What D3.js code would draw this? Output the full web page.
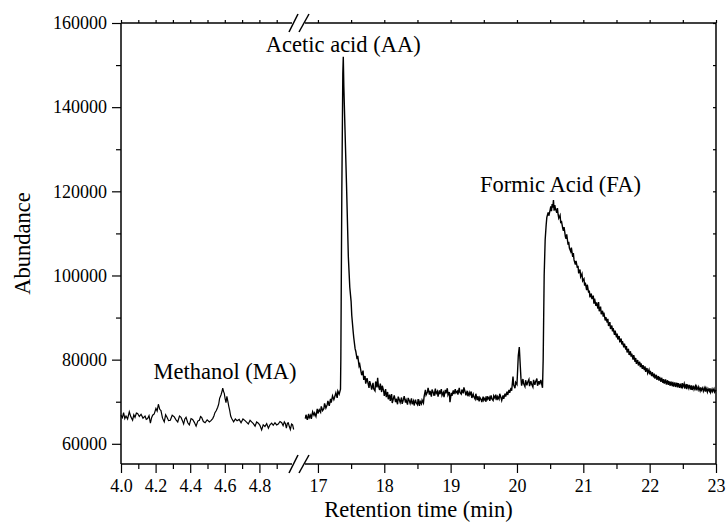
<!DOCTYPE html>
<html>
<head>
<meta charset="utf-8">
<script src="https://cdn.jsdelivr.net/npm/d3@7"></script>
<style>
  body { margin: 0; background: #fff; }
</style>
</head>
<body>
<svg id="chart" width="726" height="523"></svg>
<script>
// retention time (min), abundance -- methanol window
const methanolTrace = [
  [4.000, 66800], [4.008, 66200], [4.015, 67400], [4.022, 66000], [4.029, 66600],
  [4.038, 65900], [4.048, 67600], [4.057, 66400], [4.067, 65600], [4.074, 66900],
  [4.081, 66300], [4.089, 67300], [4.096, 67200], [4.106, 66500], [4.116, 67000],
  [4.127, 66100], [4.139, 66600], [4.146, 65800], [4.154, 66000], [4.162, 66700],
  [4.170, 64900], [4.177, 66200], [4.183, 66800], [4.192, 67100], [4.202, 68400],
  [4.209, 67800], [4.216, 69400], [4.224, 68200], [4.231, 67900], [4.240, 66100],
  [4.250, 65200], [4.258, 66900], [4.266, 66300], [4.275, 65500], [4.285, 65600],
  [4.296, 66800], [4.308, 66400], [4.318, 65700], [4.328, 65200], [4.338, 66600],
  [4.347, 66300], [4.355, 65500], [4.362, 64700], [4.369, 65900], [4.376, 66300],
  [4.386, 65000], [4.395, 64500], [4.405, 66000], [4.414, 65800], [4.424, 65100],
  [4.434, 64200], [4.444, 65400], [4.453, 65600], [4.460, 66500], [4.466, 66300],
  [4.476, 65300], [4.486, 65000], [4.498, 65700], [4.511, 65200], [4.520, 65500],
  [4.530, 66000], [4.537, 66600], [4.543, 67400], [4.551, 67900], [4.559, 68700],
  [4.565, 69500], [4.570, 70800], [4.578, 71600], [4.583, 72300], [4.588, 73200],
  [4.593, 72400], [4.597, 72000], [4.602, 70700], [4.607, 69800], [4.612, 71300],
  [4.618, 70000], [4.623, 68900], [4.628, 68000], [4.634, 66600], [4.640, 66000],
  [4.651, 65200], [4.661, 65900], [4.671, 65500], [4.683, 65800], [4.694, 65000],
  [4.705, 65900], [4.717, 65500], [4.727, 65100], [4.736, 64700], [4.746, 65600],
  [4.755, 65200], [4.765, 64800], [4.775, 64200], [4.784, 65200], [4.794, 64900],
  [4.803, 64400], [4.813, 63300], [4.822, 64500], [4.832, 64100], [4.842, 64800],
  [4.852, 63700], [4.861, 64500], [4.871, 64900], [4.880, 64400], [4.890, 65000],
  [4.900, 64500], [4.909, 64700], [4.919, 65300], [4.929, 65000], [4.937, 64300],
  [4.944, 65200], [4.950, 64800], [4.956, 63700], [4.962, 64900], [4.967, 65000],
  [4.973, 64100], [4.979, 63400], [4.986, 64700], [4.992, 64500], [4.998, 63400]
];

// retention time (min), abundance -- acid window
const acidTrace = [
  [16.81, 66000], [16.82, 66900], [16.84, 65700], [16.86, 67100], [16.87, 66200],
  [16.89, 66800], [16.90, 65900], [16.92, 67600], [16.94, 66800], [16.95, 67300],
  [16.97, 66500], [16.99, 68300], [17.00, 67200], [17.02, 68100], [17.04, 67500],
  [17.05, 68900], [17.07, 67900], [17.09, 68400], [17.10, 69600], [17.12, 68500],
  [17.14, 69300], [17.15, 70200], [17.17, 69000], [17.19, 70700], [17.20, 69800],
  [17.22, 71400], [17.24, 70500], [17.25, 71000], [17.27, 72100], [17.29, 70900],
  [17.30, 72500], [17.32, 71800], [17.34, 73000],
  [17.345, 80000], [17.36, 120000], [17.375, 148000], [17.382, 152000], [17.39, 145000],
  [17.408, 134600], [17.43, 122000], [17.458, 104500],
  [17.47, 100500], [17.48, 97200], [17.50, 93800], [17.51, 90500], [17.53, 86800],
  [17.54, 85200], [17.56, 82600], [17.57, 82000], [17.59, 80100], [17.60, 80900],
  [17.62, 78500], [17.63, 78900], [17.65, 77100], [17.66, 76300], [17.68, 77400],
  [17.69, 75200], [17.71, 76100], [17.72, 74300], [17.74, 75600], [17.75, 74800],
  [17.77, 73300], [17.78, 74900], [17.80, 73700], [17.81, 72900], [17.83, 74500],
  [17.84, 73100], [17.86, 72600], [17.87, 74800], [17.89, 73400], [17.90, 75700],
  [17.91, 73900], [17.93, 72800], [17.94, 74300], [17.96, 72300], [17.97, 73800],
  [17.99, 72600], [18.00, 71400], [18.02, 73000], [18.03, 71100], [18.05, 72300],
  [18.06, 70600], [18.08, 71700], [18.09, 70200], [18.11, 71800], [18.12, 69700],
  [18.14, 70900], [18.15, 71500], [18.17, 69900], [18.18, 70700], [18.20, 69400],
  [18.21, 71200], [18.23, 70300], [18.24, 69800], [18.26, 71000], [18.27, 69500],
  [18.29, 70600], [18.30, 71300], [18.32, 69800], [18.33, 70400], [18.35, 69300],
  [18.36, 70900], [18.38, 70100], [18.39, 69600], [18.41, 70800], [18.42, 69400],
  [18.44, 70200], [18.45, 69100], [18.47, 70500], [18.48, 69800], [18.50, 69300],
  [18.51, 70600], [18.53, 69000], [18.54, 70100], [18.56, 69500], [18.57, 70400],
  [18.59, 69700], [18.60, 71200], [18.62, 72800], [18.63, 71600], [18.65, 72300],
  [18.66, 73300], [18.68, 71700], [18.69, 72600], [18.71, 71200], [18.72, 72900],
  [18.74, 72100], [18.75, 71400], [18.77, 73100], [18.78, 71900], [18.80, 72500],
  [18.81, 71200], [18.83, 72700], [18.84, 71800], [18.86, 73000], [18.87, 71500],
  [18.89, 72200], [18.90, 71100], [18.92, 72800], [18.93, 72000], [18.95, 73200],
  [18.96, 71600], [18.98, 72300], [18.99, 69900], [19.01, 72100], [19.02, 71400],
  [19.04, 72700], [19.05, 71800], [19.07, 73000], [19.08, 72100], [19.10, 72500],
  [19.11, 71700], [19.13, 73300], [19.14, 72200], [19.16, 71800], [19.17, 72900],
  [19.19, 72000], [19.20, 73400], [19.22, 72300], [19.23, 71500], [19.25, 72600],
  [19.26, 71300], [19.28, 72200], [19.29, 71600], [19.31, 72400], [19.32, 70900],
  [19.34, 71800], [19.35, 71200], [19.37, 70600], [19.38, 71900], [19.40, 70400],
  [19.41, 71300], [19.43, 70100], [19.44, 71000], [19.46, 70500], [19.47, 69900],
  [19.49, 71200], [19.50, 70300], [19.52, 70900], [19.53, 70000], [19.55, 71300],
  [19.56, 70600], [19.58, 71100], [19.59, 70200], [19.61, 71500], [19.62, 70700],
  [19.64, 70300], [19.65, 71400], [19.67, 70800], [19.68, 71700], [19.70, 70400],
  [19.71, 71200], [19.73, 70600], [19.74, 71900], [19.76, 70900], [19.77, 70300],
  [19.79, 71500], [19.80, 70700], [19.82, 71900], [19.83, 71200], [19.85, 72400],
  [19.86, 71600], [19.88, 72800], [19.89, 72100], [19.91, 73300], [19.92, 72600],
  [19.94, 76000], [19.95, 74000], [19.97, 73200], [19.98, 74600], [20.00, 74100],
  [20.02, 81000], [20.035, 83000], [20.05, 78500], [20.06, 75600], [20.07, 73800],
  [20.09, 75400], [20.10, 74300], [20.12, 73600], [20.13, 75100], [20.15, 73900],
  [20.16, 74600], [20.18, 75300], [20.19, 73700], [20.21, 74900], [20.22, 74200],
  [20.24, 73500], [20.25, 75200], [20.27, 74000], [20.28, 74700], [20.30, 75500],
  [20.31, 73800], [20.33, 74900], [20.34, 74100], [20.36, 75200], [20.37, 74400],
  [20.385, 73300], [20.395, 80000], [20.41, 100000], [20.425, 108500], [20.44, 112000],
  [20.45, 113800], [20.47, 115000], [20.48, 114200], [20.50, 115600], [20.51, 116400],
  [20.52, 115300], [20.53, 117000], [20.54, 116100], [20.55, 117900], [20.56, 115400],
  [20.57, 116700], [20.58, 115900], [20.60, 114900], [20.61, 116000], [20.62, 114500],
  [20.63, 113600], [20.65, 114300], [20.66, 112400], [20.67, 113000], [20.69, 111200],
  [20.70, 110600], [20.71, 111500], [20.73, 109200], [20.74, 108700], [20.75, 109800],
  [20.77, 107300], [20.78, 108000], [20.79, 106500], [20.81, 105700], [20.82, 106600],
  [20.84, 104400], [20.85, 105300], [20.86, 103700], [20.88, 102600], [20.89, 103500],
  [20.91, 101800], [20.92, 102300], [20.93, 100500], [20.95, 101400], [20.96, 99700],
  [20.98, 100400], [20.99, 98700], [21.01, 99200], [21.02, 97600], [21.03, 98300],
  [21.05, 96500], [21.06, 97800], [21.08, 95900], [21.09, 96400], [21.10, 94800],
  [21.12, 95700], [21.13, 94400], [21.15, 95200], [21.16, 93300], [21.17, 94500],
  [21.19, 92800], [21.20, 93600], [21.22, 92100], [21.23, 93700], [21.24, 91500],
  [21.26, 92600], [21.27, 90800], [21.29, 91600], [21.30, 90200], [21.31, 91200],
  [21.33, 89300], [21.34, 90100], [21.36, 88800], [21.37, 89700], [21.38, 88000],
  [21.40, 88900], [21.41, 87300], [21.43, 88100], [21.44, 86700], [21.45, 87500],
  [21.47, 85900], [21.48, 86900], [21.50, 85300], [21.51, 86200], [21.52, 84800],
  [21.54, 85600], [21.55, 84100], [21.57, 85000], [21.58, 83600], [21.59, 84400],
  [21.61, 82900], [21.62, 83800], [21.64, 82400], [21.65, 83200], [21.66, 81700],
  [21.68, 82600], [21.69, 81100], [21.71, 82000], [21.72, 80700], [21.73, 81400],
  [21.75, 80000], [21.76, 81100], [21.78, 79500], [21.79, 80400], [21.80, 79000],
  [21.82, 79900], [21.83, 78600], [21.85, 79500], [21.86, 78200], [21.87, 79100],
  [21.89, 77800], [21.90, 78700], [21.92, 77500], [21.93, 78400], [21.94, 77100],
  [21.96, 78000], [21.97, 76800], [21.99, 77600], [22.00, 76500], [22.01, 77300],
  [22.03, 76100], [22.04, 77000], [22.06, 75800], [22.07, 76700], [22.08, 75500],
  [22.10, 76400], [22.11, 75200], [22.13, 76100], [22.14, 75000], [22.15, 75900],
  [22.17, 74700], [22.18, 75700], [22.20, 74500], [22.21, 75400], [22.22, 74300],
  [22.24, 75300], [22.25, 74100], [22.27, 75100], [22.28, 74000], [22.29, 74900],
  [22.31, 73800], [22.32, 74800], [22.34, 73700], [22.35, 74700], [22.36, 73600],
  [22.38, 74600], [22.39, 73500], [22.41, 74500], [22.42, 73400], [22.43, 74400],
  [22.45, 73300], [22.46, 74300], [22.48, 73200], [22.49, 74400], [22.50, 73500],
  [22.52, 74300], [22.53, 73100], [22.55, 74200], [22.56, 73000], [22.57, 74100],
  [22.59, 73200], [22.60, 74000], [22.62, 72900], [22.63, 73900], [22.64, 72800],
  [22.66, 73800], [22.67, 72900], [22.69, 73700], [22.70, 72700], [22.71, 73600],
  [22.73, 72800], [22.74, 73500], [22.76, 72600], [22.77, 73400], [22.78, 72700],
  [22.80, 73300], [22.81, 72500], [22.83, 73300], [22.84, 72400], [22.85, 73200],
  [22.87, 72300], [22.88, 73100], [22.90, 72500], [22.91, 73200], [22.92, 72200],
  [22.94, 73000], [22.95, 72400], [22.97, 73100], [22.98, 72300], [23.00, 72800]
];

const leftMajor = [4.0, 4.2, 4.4, 4.6, 4.8];
const leftMinor = [4.1, 4.3, 4.5, 4.7, 4.9];
const leftTop = [4.0, 4.1, 4.2, 4.3, 4.4, 4.5, 4.6, 4.7, 4.8, 4.9];
const rightMajor = [17, 18, 19, 20, 21, 22, 23];
const rightMinor = [17.5, 18.5, 19.5, 20.5, 21.5, 22.5];
const yMajor = [60000, 80000, 100000, 120000, 140000, 160000];
const yMinor = [70000, 90000, 110000, 130000, 150000];

const peakLabels = [
  { t: 4.601, v: 75400, side: 'left', text: 'Methanol (MA)' },
  { t: 17.382, v: 153100, side: 'right', text: 'Acetic acid (AA)' },
  { t: 20.656, v: 119800, side: 'right', text: 'Formic Acid (FA)' }
];

const serif = 'Liberation Serif, DejaVu Serif, serif';
const svg = d3.select('#chart');
const pLeft = 121, pRight = 716, pTop = 23, pBottom = 464;
const breakL = 292, breakR = 305;

const xL = d3.scaleLinear().domain([4.0, 5.0]).range([pLeft, 294]);
const xR = d3.scaleLinear().domain([16.82, 23]).range([306, pRight]);
const y = d3.scaleLinear().domain([55200, 160000]).range([pBottom, pTop]);

// ticks
function ticks(axis, tx, ty) {
  const g = svg.append('g').attr('transform', `translate(${tx},${ty})`).call(axis);
  g.select('.domain').remove();
  g.attr('font-family', serif).attr('font-size', 18);
  g.selectAll('line').attr('stroke', '#000').attr('stroke-width', 1.2);
  g.selectAll('text').attr('fill', '#000');
  return g;
}

ticks(d3.axisBottom(xL).tickValues(leftMajor).tickSize(9).tickPadding(6).tickFormat(d3.format('.1f')), 0, pBottom);
ticks(d3.axisBottom(xL).tickValues(leftMinor).tickSize(5).tickFormat(''), 0, pBottom);
ticks(d3.axisBottom(xR).tickValues(rightMajor).tickSize(9).tickPadding(6).tickFormat(d3.format('d')), 0, pBottom);
ticks(d3.axisBottom(xR).tickValues(rightMinor).tickSize(5).tickFormat(''), 0, pBottom);
ticks(d3.axisTop(xL).tickValues(leftTop).tickSize(3).tickFormat(''), 0, pTop);
ticks(d3.axisTop(xR).tickValues(rightMajor.concat(rightMinor)).tickSize(3).tickFormat(''), 0, pTop);
ticks(d3.axisLeft(y).tickValues(yMajor).tickSize(9).tickPadding(5).tickFormat(d3.format('d')), pLeft, 0);
ticks(d3.axisLeft(y).tickValues(yMinor).tickSize(5).tickFormat(''), pLeft, 0);
ticks(d3.axisLeft(y).tickValues(yMajor.concat(yMinor)).tickSize(3).tickFormat(''), pRight, 0);

// frame with axis break
const frame = svg.append('g').attr('stroke', '#000').attr('stroke-width', 1.5).attr('fill', 'none');
[[pLeft, pTop, pLeft, pBottom], [pRight, pTop, pRight, pBottom],
 [pLeft, pTop, breakL, pTop], [breakR, pTop, pRight, pTop],
 [pLeft, pBottom, breakL, pBottom], [breakR, pBottom, pRight, pBottom]]
  .forEach(s => frame.append('line').attr('x1', s[0]).attr('y1', s[1]).attr('x2', s[2]).attr('y2', s[3]));

[pTop, pBottom].forEach(yy => {
  frame.append('line').attr('x1', 289).attr('y1', yy + 9).attr('x2', 298).attr('y2', yy - 9);
  frame.append('line').attr('x1', 299).attr('y1', yy + 9).attr('x2', 309).attr('y2', yy - 9);
});

// traces
const lineL = d3.line().x(d => xL(d[0])).y(d => y(d[1]));
const lineR = d3.line().x(d => xR(d[0])).y(d => y(d[1]));
svg.append('path').datum(methanolTrace).attr('d', lineL)
  .attr('fill', 'none').attr('stroke', '#000').attr('stroke-width', 1.2);
svg.append('path').datum(acidTrace).attr('d', lineR)
  .attr('fill', 'none').attr('stroke', '#000').attr('stroke-width', 1.4);

// text
const labels = svg.append('g').attr('font-family', serif).attr('font-size', 22.5).attr('fill', '#000');

labels.selectAll('.peak-label')
  .data(peakLabels)
  .join('text')
  .classed('peak-label', true)
  .attr('x', d => (d.side === 'left' ? xL : xR)(d.t))
  .attr('y', d => y(d.v))
  .attr('text-anchor', 'middle')
  .text(d => d.text);

labels.append('text')
  .attr('x', (pLeft + pRight) / 2)
  .attr('y', 517)
  .attr('text-anchor', 'middle')
  .text('Retention time (min)');

labels.append('text')
  .attr('transform', `translate(30,${(pTop + pBottom) / 2}) rotate(-90)`)
  .attr('text-anchor', 'middle')
  .text('Abundance');
</script>
</body>
</html>
